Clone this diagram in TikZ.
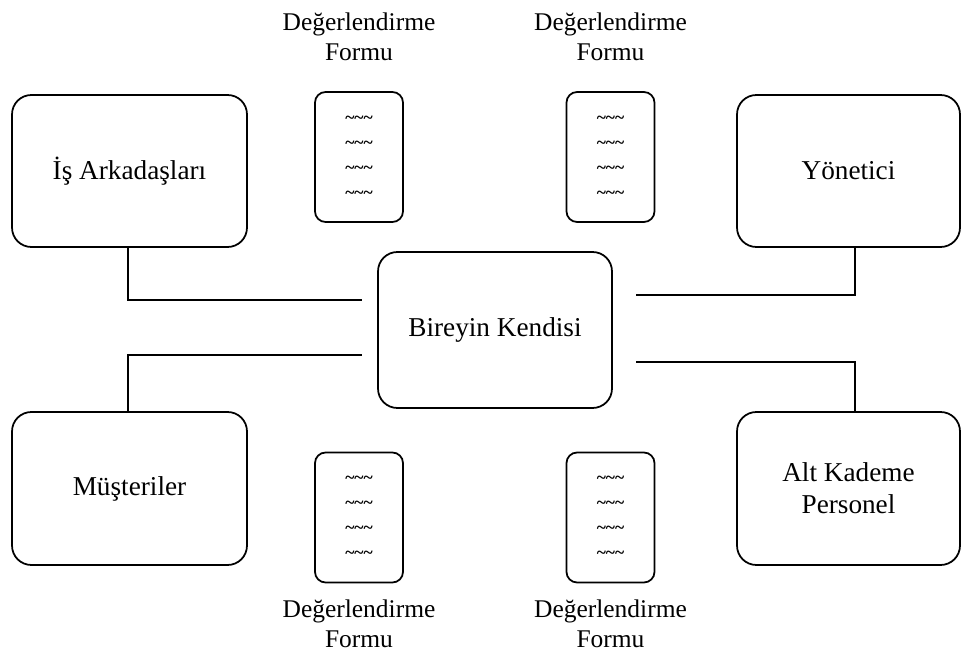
\documentclass[tikz,border=0pt]{standalone}
\usepackage{fontspec}
\setmainfont{Liberation Serif}
\usetikzlibrary{positioning}

\newcommand{\dalga}{\textasciitilde\textasciitilde\textasciitilde}

\begin{document}
\begin{tikzpicture}[x=0.02cm, y=-0.02cm,
        kutu/.style={draw, line width=1pt, rounded corners=11pt, align=center,
                     font=\fontsize{15.5}{18}\selectfont, inner sep=0pt},
        form/.style={draw, line width=1pt, rounded corners=6pt, align=center,
                     minimum width=1.76cm, minimum height=2.6cm, inner sep=0pt,
                     font=\fontsize{10}{14.2}\selectfont\bfseries},
        etiket/.style={align=center, font=\fontsize{14.5}{17}\selectfont},
        hat/.style={line width=1pt}
      ]
        \useasboundingbox (0,0) rectangle (965,658);
        % cevre kutulari
        \node[kutu, minimum width=4.7cm, minimum height=3.04cm] (isark) at (129.5,171) {İş Arkadaşları};
        \node[kutu, minimum width=4.46cm, minimum height=3.04cm] (yonet) at (848.5,171) {Yönetici};
        \node[kutu, minimum width=4.7cm, minimum height=3.06cm] (muster) at (129.5,488.5) {Müşteriler};
        \node[kutu, minimum width=4.46cm, minimum height=3.06cm] (altkad) at (848.5,488.5) {Alt Kademe\\Personel};
        \node[kutu, minimum width=4.68cm, minimum height=3.12cm] (birey) at (495,330) {Bireyin Kendisi};
        % formlar
        \node[form] (f1) at (359,157)   {\dalga\\\dalga\\\dalga\\\dalga};
        \node[form] (f2) at (610.5,157) {\dalga\\\dalga\\\dalga\\\dalga};
        \node[form] (f3) at (359,517.5) {\dalga\\\dalga\\\dalga\\\dalga};
        \node[form] (f4) at (610.5,517.5) {\dalga\\\dalga\\\dalga\\\dalga};
        \node[etiket, above=0.48cm of f1] (e1) {Değerlendirme\\Formu};
        \node[etiket, above=0.48cm of f2] (e2) {Değerlendirme\\Formu};
        \node[etiket, below=0.2cm of f3] (e3) {Değerlendirme\\Formu};
        \node[etiket, below=0.2cm of f4] (e4) {Değerlendirme\\Formu};
        % baglantilar
        \coordinate (b1) at (362,300);
        \coordinate (b2) at (636,295);
        \coordinate (b3) at (362,355);
        \coordinate (b4) at (636,362);
        \draw[hat] ([xshift=-0.03cm]isark.south) |- (b1);
        \draw[hat] ([xshift=0.13cm]yonet.south) |- (b2);
        \draw[hat] ([xshift=-0.03cm]muster.north) |- (b3);
        \draw[hat] ([xshift=0.13cm]altkad.north) |- (b4);
      \end{tikzpicture}
\end{document}
